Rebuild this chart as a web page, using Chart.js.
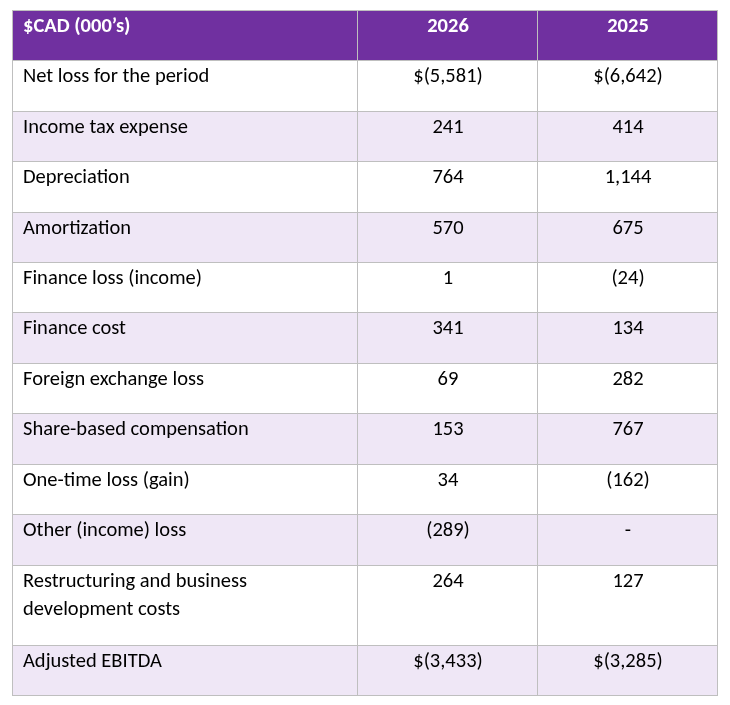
<!DOCTYPE html>
<html>
<head>
<meta charset="utf-8">
<script src="https://cdn.jsdelivr.net/npm/chart.js@4.4.1/dist/chart.umd.min.js"></script>
<style>
  html, body { margin: 0; padding: 0; background: #ffffff; }
  canvas { display: block; }
</style>
</head>
<body>
<canvas id="myChart" width="730" height="705"></canvas>
<script>
// table content
const headers = ['$CAD (000\u2019s)', '2026', '2025'];
const categories = [
    ['Net loss for the period'],
    ['Income tax expense'],
    ['Depreciation'],
    ['Amortization'],
    ['Finance loss (income)'],
    ['Finance cost'],
    ['Foreign exchange loss'],
    ['Share-based compensation'],
    ['One-time loss (gain)'],
    ['Other (income) loss'],
    ['Restructuring and business', 'development costs'],
    ['Adjusted EBITDA']
];
const values2026 = [-5581, 241, 764, 570, 1, 341, 69, 153, 34, -289, 264, -3433];
const values2025 = [-6642, 414, 1144, 675, -24, 134, 282, 767, -162, null, 127, -3285];
const currencyRows = [0, 11];

// layout in table units (1 unit = 1px at this size)
const colWidths = [345, 180, 180];
const rowUnit = 50.4;
const extraLine = 29.6;

const colors = {
    header: '#7030A0',
    stripe: '#EFE7F6',
    plain: '#FFFFFF',
    border: '#BFBFBF',
    text: '#000000',
    headerText: '#FFFFFF'
};
const fontFamily = 'Carlito, Calibri, Lato, sans-serif';
const fontSize = 20.5;

function fmt(v, row) {
    if (v === null || v === undefined) return '-';
    let s = Math.abs(v).toLocaleString('en-US');
    if (v < 0) s = '(' + s + ')';
    if (currencyRows.includes(row)) s = '$' + s;
    return s;
}

// row edges (header + body rows)
const rowEdges = [0, rowUnit];
categories.forEach(lines => {
    rowEdges.push(rowEdges[rowEdges.length - 1] + rowUnit + extraLine * (lines.length - 1));
});
const colEdges = [0];
colWidths.forEach(w => colEdges.push(colEdges[colEdges.length - 1] + w));
const totalHeight = rowEdges[rowEdges.length - 1];
const totalWidth = colEdges[colEdges.length - 1];

const tablePlugin = {
    id: 'tablePlugin',
    afterDraw(chart) {
        const ctx = chart.ctx;
        const xs = chart.scales.x;
        const ys = chart.scales.y;
        const px = v => Math.round(xs.getPixelForValue(v));
        const py = v => Math.round(ys.getPixelForValue(v));
        const left = px(0), right = px(totalWidth);

        ctx.save();
        // backgrounds
        for (let r = 0; r < rowEdges.length - 1; r++) {
            const y0 = py(rowEdges[r]), y1 = py(rowEdges[r + 1]);
            let fill = colors.plain;
            if (r === 0) fill = colors.header;
            else if ((r - 1) % 2 === 1) fill = colors.stripe;
            ctx.fillStyle = fill;
            ctx.fillRect(left, y0, right - left, y1 - y0);
        }

        // borders
        ctx.strokeStyle = colors.border;
        ctx.lineWidth = 1;
        ctx.beginPath();
        rowEdges.forEach(e => {
            const y = py(e) + 0.5;
            ctx.moveTo(left, y);
            ctx.lineTo(right + 1, y);
        });
        colEdges.forEach(e => {
            const x = px(e) + 0.5;
            ctx.moveTo(x, py(0));
            ctx.lineTo(x, py(totalHeight) + 1);
        });
        ctx.stroke();

        // text
        const baseline = 21.5;
        const lineGap = 28.5;
        ctx.textBaseline = 'alphabetic';
        const cellText = (text, col, top, bold, color) => {
            ctx.font = (bold ? 'bold ' : '') + fontSize + 'px ' + fontFamily;
            ctx.fillStyle = color;
            if (col === 0) {
                ctx.textAlign = 'left';
                ctx.fillText(text, px(colEdges[0]) + 11, top);
            } else {
                ctx.textAlign = 'center';
                ctx.fillText(text, (px(colEdges[col]) + px(colEdges[col + 1])) / 2 + 1, top);
            }
        };

        headers.forEach((h, c) => {
            cellText(h, c, py(rowEdges[0]) + baseline, true, colors.headerText);
        });
        categories.forEach((lines, i) => {
            const top = py(rowEdges[i + 1]) + baseline;
            lines.forEach((line, k) => cellText(line, 0, top + k * lineGap, false, colors.text));
            cellText(fmt(values2026[i], i), 1, top, false, colors.text);
            cellText(fmt(values2025[i], i), 2, top, false, colors.text);
        });
        ctx.restore();
    }
};

const ctx = document.getElementById('myChart').getContext('2d');
const tableChart = new Chart(ctx, {
    type: 'scatter',
    data: {
        datasets: [{
            label: 'table',
            data: []
        }]
    },
    options: {
        responsive: false,
        animation: false,
        layout: {
            padding: { left: 12, right: 13, top: 10, bottom: 10 }
        },
        scales: {
            x: { type: 'linear', display: false, min: 0, max: totalWidth },
            y: { type: 'linear', display: false, reverse: true, min: 0, max: totalHeight }
        },
        plugins: {
            legend: { display: false },
            tooltip: { enabled: false }
        }
    },
    plugins: [tablePlugin]
});
</script>
</body>
</html>
